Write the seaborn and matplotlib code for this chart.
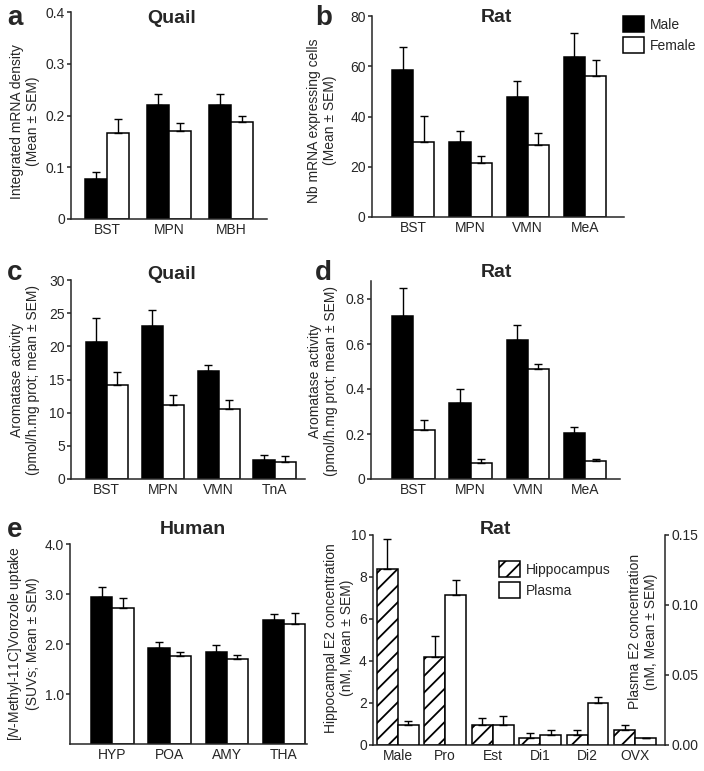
import numpy as np
import pandas as pd
import seaborn as sns
import matplotlib.pyplot as plt
from matplotlib.patches import Patch

# --- Data ---
SEXES = ['Male', 'Female']

# a: quail, integrated mRNA density
A_REGIONS = ['BST', 'MPN', 'MBH']
A_MALE = [0.078, 0.221, 0.221]
A_MALE_SEM = [0.012, 0.021, 0.021]
A_FEMALE = [0.167, 0.170, 0.187]
A_FEMALE_SEM = [0.027, 0.016, 0.012]
A_YTICKS = [0, 0.1, 0.2, 0.3, 0.4]
A_YTICKLABELS = ['0', '0.1', '0.2', '0.3', '0.4']

# b: rat, number of mRNA expressing cells
B_REGIONS = ['BST', 'MPN', 'VMN', 'MeA']
B_MALE = [58.5, 29.7, 47.9, 63.8]
B_MALE_SEM = [9.3, 4.6, 6.3, 9.3]
B_FEMALE = [29.7, 21.5, 28.5, 56.0]
B_FEMALE_SEM = [10.6, 2.6, 4.9, 6.3]
B_YTICKS = [0, 20, 40, 60, 80]
B_YTICKLABELS = ['0', '20', '40', '60', '80']

# c: quail, aromatase activity
C_REGIONS = ['BST', 'MPN', 'VMN', 'TnA']
C_MALE = [20.7, 23.0, 16.3, 2.8]
C_MALE_SEM = [3.5, 2.5, 0.9, 0.75]
C_FEMALE = [14.1, 11.1, 10.55, 2.6]
C_FEMALE_SEM = [2.1, 1.5, 1.35, 0.8]
C_YTICKS = [0, 5, 10, 15, 20, 25, 30]
C_YTICKLABELS = ['0', '5', '10', '15', '20', '25', '30']

# d: rat, aromatase activity
D_REGIONS = ['BST', 'MPN', 'VMN', 'MeA']
D_MALE = [0.723, 0.337, 0.616, 0.203]
D_MALE_SEM = [0.127, 0.063, 0.067, 0.027]
D_FEMALE = [0.220, 0.071, 0.488, 0.078]
D_FEMALE_SEM = [0.042, 0.018, 0.025, 0.013]
D_YTICKS = [0, 0.2, 0.4, 0.6, 0.8]
D_YTICKLABELS = ['0', '0.2', '0.4', '0.6', '0.8']

# e: human, vorozole uptake
E_REGIONS = ['HYP', 'POA', 'AMY', 'THA']
E_MALE = [2.95, 1.92, 1.85, 2.49]
E_MALE_SEM = [0.20, 0.13, 0.13, 0.12]
E_FEMALE = [2.73, 1.76, 1.71, 2.41]
E_FEMALE_SEM = [0.20, 0.09, 0.07, 0.21]
E_YTICKS = [1, 2, 3, 4]
E_YTICKLABELS = ['1.0', '2.0', '3.0', '4.0']

# f: rat, E2 concentration (hippocampus left axis, plasma right axis)
F_GROUPS = ['Male', 'Pro', 'Est', 'Di1', 'Di2', 'OVX']
F_SAMPLES = ['Hippocampus', 'Plasma']
F_HIPPO = [8.36, 4.21, 0.94, 0.32, 0.46, 0.70]
F_HIPPO_SEM = [1.44, 0.99, 0.34, 0.25, 0.24, 0.24]
F_PLASMA = [0.0141, 0.107, 0.0141, 0.0069, 0.0297, 0.0048]
F_PLASMA_SEM = [0.0027, 0.011, 0.0068, 0.0036, 0.0043, 0.0]
F_YTICKS = [0, 2, 4, 6, 8, 10]
F_YTICKLABELS = ['0', '2', '4', '6', '8', '10']
F_Y2TICKS = [0, 0.05, 0.10, 0.15]
F_Y2TICKLABELS = ['0.00', '0.05', '0.10', '0.15']

# --- Style ---
sns.set_style('ticks')
plt.rcParams['font.family'] = ['Liberation Sans', 'DejaVu Sans']
plt.rcParams['mathtext.fontset'] = 'custom'
plt.rcParams['mathtext.rm'] = 'Liberation Sans'
plt.rcParams['mathtext.it'] = 'Liberation Sans:italic'
plt.rcParams['font.size'] = 10
plt.rcParams['hatch.linewidth'] = 1.3

LW = 1.1
FS = 10
HATCH = '//'


def style_axis(ax, yticks, yticklabels, ylim, xlim):
    ax.set_ylim(*ylim)
    ax.set_xlim(*xlim)
    ax.set_yticks(yticks)
    ax.set_yticklabels(yticklabels, fontsize=FS)
    ax.tick_params(axis='x', length=0, labelsize=FS, pad=3)
    ax.tick_params(axis='y', length=3, width=LW, pad=1.5, labelsize=FS)
    for s in ax.spines.values():
        s.set_linewidth(LW)
    ax.set_xlabel('')


def add_errors(ax, xs, vals, sems):
    # upper half only, like the original figure
    ax.errorbar(xs, vals, yerr=[np.zeros(len(vals)), sems], fmt='none',
                ecolor='black', elinewidth=1.0, capsize=2.8, capthick=1.0, zorder=5)


def grouped_bars(ax, regions, male, male_sem, female, female_sem, width):
    n = len(regions)
    df = pd.DataFrame({
        'Region': regions * 2,
        'Sex': ['Male'] * n + ['Female'] * n,
        'Value': male + female,
    })
    sns.barplot(data=df, x='Region', y='Value', hue='Sex', hue_order=SEXES,
                palette={'Male': 'black', 'Female': 'white'}, edgecolor='black',
                linewidth=LW, width=width, saturation=1, errorbar=None,
                legend=False, ax=ax)
    x = np.arange(n)
    add_errors(ax, x - width / 4, male, male_sem)
    add_errors(ax, x + width / 4, female, female_sem)
    sns.despine(ax=ax)


fig = plt.figure(figsize=(7.04, 7.71), dpi=100)
W, H = 704, 771


def add_ax(x0, y0, x1, y1):
    return fig.add_axes([x0 / W, 1 - y1 / H, (x1 - x0) / W, (y1 - y0) / H])


ax_a = add_ax(71, 12, 267, 219)
ax_b = add_ax(372, 16, 624, 217)
ax_c = add_ax(71, 280, 305, 479)
ax_d = add_ax(371, 281, 620, 479)
ax_e = add_ax(70, 544, 307, 744)
ax_f = add_ax(373, 535, 665, 745)

# a
grouped_bars(ax_a, A_REGIONS, A_MALE, A_MALE_SEM, A_FEMALE, A_FEMALE_SEM, 0.71)
style_axis(ax_a, A_YTICKS, A_YTICKLABELS, (0, 0.4), (-0.58, 2.58))
ax_a.set_ylabel('Integrated mRNA density\n(Mean ± SEM)', fontsize=FS)
ax_a.yaxis.set_label_coords(-0.158, 0.47)
ax_a.text(0.515, 0.971, 'Quail', transform=ax_a.transAxes, ha='center', va='center',
          fontsize=14, fontweight='bold')

# b
grouped_bars(ax_b, B_REGIONS, B_MALE, B_MALE_SEM, B_FEMALE, B_FEMALE_SEM, 0.74)
style_axis(ax_b, B_YTICKS, B_YTICKLABELS, (0, 80), (-0.72, 3.68))
ax_b.set_ylabel('Nb mRNA expressing cells\n(Mean ± SEM)', fontsize=FS)
ax_b.yaxis.set_label_coords(-0.139, 0.48)
ax_b.text(0.492, 0.995, 'Rat', transform=ax_b.transAxes, ha='center', va='center',
          fontsize=14, fontweight='bold')
ax_b.legend(handles=[Patch(facecolor='black', edgecolor='black', linewidth=LW),
                     Patch(facecolor='white', edgecolor='black', linewidth=LW)],
            labels=SEXES, loc='upper left', bbox_to_anchor=(623 / W, 1 - 16 / H),
            bbox_transform=fig.transFigure, frameon=False, fontsize=FS,
            handlelength=1.5, handleheight=1.45, borderpad=0, borderaxespad=0,
            handletextpad=0.45, labelspacing=0.3)

# c
grouped_bars(ax_c, C_REGIONS, C_MALE, C_MALE_SEM, C_FEMALE, C_FEMALE_SEM, 0.76)
style_axis(ax_c, C_YTICKS, C_YTICKLABELS, (0, 30), (-0.64, 3.54))
ax_c.set_ylabel('Aromatase activity\n(pmol/h.mg prot; mean ± SEM)', fontsize=FS)
ax_c.yaxis.set_label_coords(-0.132, 0.495)
ax_c.text(0.432, 1.03, 'Quail', transform=ax_c.transAxes, ha='center', va='center',
          fontsize=14, fontweight='bold')

# d
grouped_bars(ax_d, D_REGIONS, D_MALE, D_MALE_SEM, D_FEMALE, D_FEMALE_SEM, 0.74)
style_axis(ax_d, D_YTICKS, D_YTICKLABELS, (0, 0.88), (-0.74, 3.61))
ax_d.set_ylabel('Aromatase activity\n(pmol/h.mg prot; mean ± SEM)', fontsize=FS)
ax_d.yaxis.set_label_coords(-0.133, 0.495)
ax_d.text(0.502, 1.045, 'Rat', transform=ax_d.transAxes, ha='center', va='center',
          fontsize=14, fontweight='bold')

# e
grouped_bars(ax_e, E_REGIONS, E_MALE, E_MALE_SEM, E_FEMALE, E_FEMALE_SEM, 0.74)
style_axis(ax_e, E_YTICKS, E_YTICKLABELS, (0, 4), (-0.74, 3.4))
ax_e.set_ylabel('[$\\it{N}$-Methyl-11C]Vorozole uptake\n(SUVs; Mean ± SEM)', fontsize=FS)
ax_e.yaxis.set_label_coords(-0.127, 0.5)
ax_e.text(0.519, 1.07, 'Human', transform=ax_e.transAxes, ha='center', va='center',
          fontsize=14, fontweight='bold')

# f: hippocampus on the left axis, plasma on a twin right axis
F_WIDTH = 0.88
n_f = len(F_GROUPS)
hippo_df = pd.DataFrame({'Group': F_GROUPS, 'Sample': 'Hippocampus', 'Value': F_HIPPO})
plasma_df = pd.DataFrame({'Group': F_GROUPS, 'Sample': 'Plasma', 'Value': F_PLASMA})
f_palette = {'Hippocampus': 'white', 'Plasma': 'white'}

sns.barplot(data=hippo_df, x='Group', y='Value', hue='Sample', hue_order=F_SAMPLES,
            palette=f_palette, edgecolor='black', linewidth=LW, width=F_WIDTH,
            dodge=True, saturation=1, errorbar=None, legend=False, ax=ax_f)
for p in ax_f.patches:
    p.set_hatch(HATCH)
add_errors(ax_f, np.arange(n_f) - F_WIDTH / 4, F_HIPPO, F_HIPPO_SEM)
sns.despine(ax=ax_f)
style_axis(ax_f, F_YTICKS, F_YTICKLABELS, (0, 10), (-0.52, 5.63))
ax_f.set_ylabel('Hippocampal E2 concentration\n(nM, Mean ± SEM)', fontsize=FS)
ax_f.yaxis.set_label_coords(-0.065, 0.51)
ax_f.text(0.421, 1.024, 'Rat', transform=ax_f.transAxes, ha='center', va='center',
          fontsize=14, fontweight='bold')

ax_f2 = ax_f.twinx()
sns.barplot(data=plasma_df, x='Group', y='Value', hue='Sample', hue_order=F_SAMPLES,
            palette=f_palette, edgecolor='black', linewidth=LW, width=F_WIDTH,
            dodge=True, saturation=1, errorbar=None, legend=False, ax=ax_f2)
add_errors(ax_f2, np.arange(n_f) + F_WIDTH / 4, F_PLASMA, F_PLASMA_SEM)
ax_f2.set_xlim(-0.52, 5.63)
ax_f2.set_ylim(0, 0.15)
ax_f2.set_yticks(F_Y2TICKS)
ax_f2.set_yticklabels(F_Y2TICKLABELS, fontsize=FS)
ax_f2.tick_params(axis='y', length=3, width=LW, pad=1.5, labelsize=FS)
for side in ['left', 'top', 'bottom']:
    ax_f2.spines[side].set_visible(False)
ax_f2.spines['right'].set_linewidth(LW)
ax_f2.set_ylabel('Plasma E2 concentration\n(nM, Mean ± SEM)', fontsize=FS)
ax_f2.yaxis.set_label_coords(0.873, 0.54)

ax_f.legend(handles=[Patch(facecolor='white', edgecolor='black', linewidth=LW, hatch=HATCH),
                     Patch(facecolor='white', edgecolor='black', linewidth=LW)],
            labels=F_SAMPLES, loc='upper left', bbox_to_anchor=(499 / W, 1 - 561 / H),
            bbox_transform=fig.transFigure, frameon=False, fontsize=FS,
            handlelength=1.5, handleheight=1.45, borderpad=0, borderaxespad=0,
            handletextpad=0.45, labelspacing=0.3)

# panel letters
for letter, x, y in [('a', 7, 25), ('b', 315, 25), ('c', 7, 280), ('d', 315, 280), ('e', 7, 537)]:
    fig.text(x / W, 1 - y / H, letter, ha='left', va='baseline', fontsize=20, fontweight='bold')

fig.savefig('out.png', dpi=100)
